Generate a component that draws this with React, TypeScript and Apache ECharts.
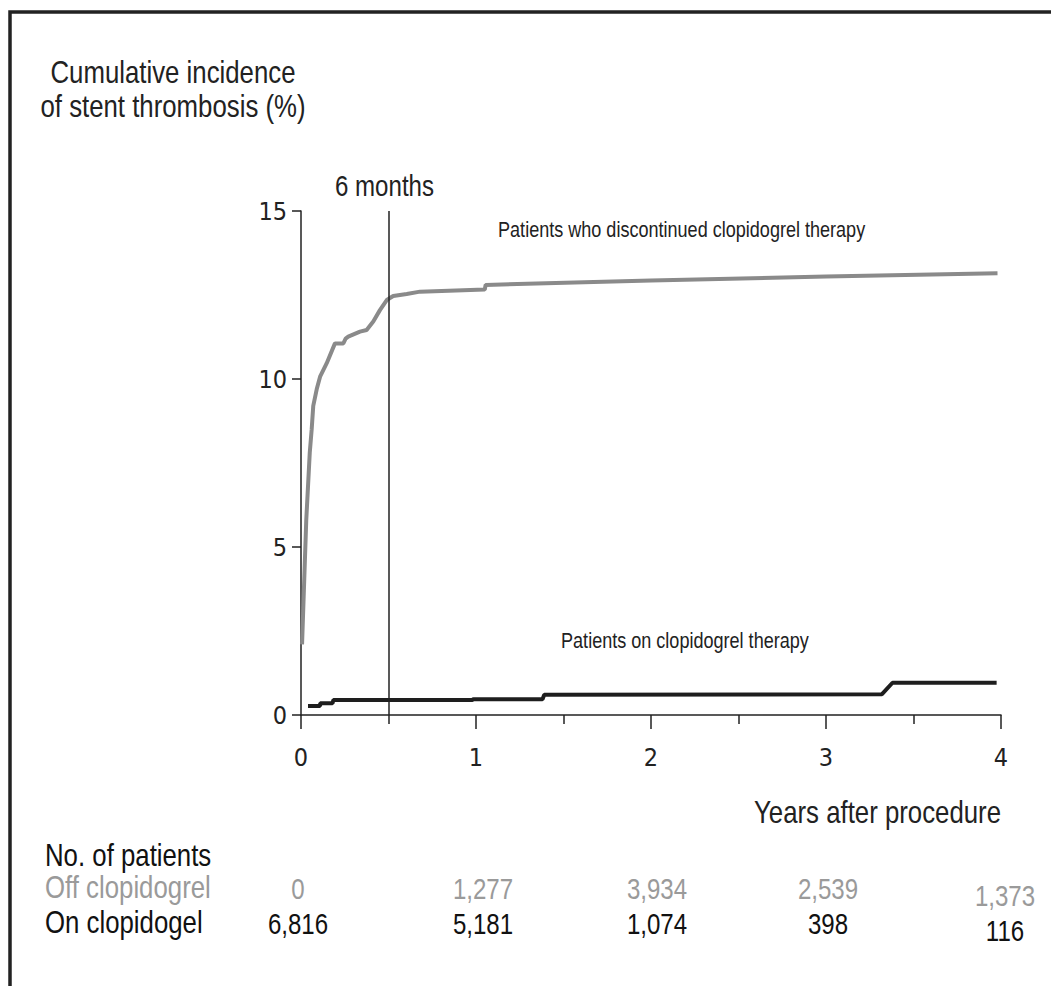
import React, { useEffect, useRef } from "react";
import * as echarts from "echarts";

const AXIS_FONT = "'DejaVu Sans Condensed', 'Liberation Sans', sans-serif";
const TEXT_FONT = "'Liberation Sans', Arial, sans-serif";
const SQUEEZE = 0.86;
const STRETCH = 1.06;

// Years after procedure, cumulative incidence (%)
const offClopidogrel: [number, number][] = [
  [0.006, 2.1], [0.03, 5.8], [0.05, 7.8], [0.061, 8.5], [0.07, 9.2], [0.09, 9.7],
  [0.109, 10.07], [0.147, 10.47], [0.194, 11.06], [0.242, 11.06], [0.255, 11.2],
  [0.27, 11.26], [0.337, 11.41], [0.375, 11.46], [0.413, 11.71], [0.451, 12.05],
  [0.49, 12.35], [0.527, 12.47], [0.604, 12.53], [0.68, 12.6], [1.05, 12.66],
  [1.055, 12.8], [2.0, 12.93], [3.0, 13.05], [3.98, 13.15],
];
const onClopidogrel: [number, number][] = [
  [0.04, 0.27], [0.109, 0.27], [0.11, 0.35], [0.18, 0.35], [0.185, 0.45],
  [0.98, 0.45], [0.985, 0.47], [1.38, 0.47], [1.39, 0.6], [3.32, 0.62],
  [3.38, 0.96], [3.975, 0.96],
];

const yTicks = [0, 5, 10, 15];
const xTicks = [0, 1, 2, 3, 4];
const offCounts = ["0", "1,277", "3,934", "2,539", "1,373"];
const onCounts = ["6,816", "5,181", "1,074", "398", "116"];
const countOffsets = [-3, 7, 6, 2, 4];
const lastRowDrop = [0, 0, 0, 0, 7];

const yTitle = ["Cumulative incidence", "of stent thrombosis (%)"];
const xTitle = "Years after procedure";
const offLabel = "Patients who discontinued clopidogrel therapy";
const onLabel = "Patients on clopidogrel therapy";
const sixMonths = 0.5;

function txt(text: string, x: number, y: number, size: number, fill: string, align = "left") {
  return {
    type: "text",
    x,
    y,
    scaleX: SQUEEZE,
    scaleY: STRETCH,
    style: { text, font: `${size}px ${TEXT_FONT}`, fill, align, verticalAlign: "middle" },
  };
}

export default function App() {
  const ref = useRef<HTMLDivElement>(null);
  useEffect(() => {
    const chart = echarts.init(ref.current!, null, { renderer: "svg" });
    chart.setOption({
      animation: false,
      backgroundColor: "#ffffff",
      grid: { left: 301, right: 50, top: 211, bottom: 271 },
      xAxis: {
        type: "value",
        min: 0,
        max: 4,
        interval: 1,
        splitLine: { show: false },
        axisLine: { show: true, onZero: false, lineStyle: { color: "#222", width: 1.5 } },
        axisTick: { show: true, length: 14, lineStyle: { color: "#222", width: 1.5 } },
        minorTick: { show: true, splitNumber: 2, length: 9, lineStyle: { color: "#222", width: 1.5 } },
        axisLabel: {
          margin: 30,
          fontSize: 25,
          fontFamily: AXIS_FONT,
          color: "#222",
          formatter: (v: number) => (xTicks.includes(v) ? String(v) : ""),
        },
      },
      yAxis: {
        type: "value",
        min: 0,
        max: 15,
        interval: 5,
        splitLine: { show: false },
        axisLine: { show: true, lineStyle: { color: "#222", width: 1.5 } },
        axisTick: { show: true, length: 9, lineStyle: { color: "#222", width: 1.5 } },
        axisLabel: {
          margin: 14,
          fontSize: 25,
          fontFamily: AXIS_FONT,
          color: "#222",
          formatter: (v: number) => (yTicks.includes(v) ? String(v) : ""),
        },
      },
      series: [
        {
          type: "line",
          name: "Off clopidogrel",
          data: offClopidogrel,
          symbol: "none",
          lineStyle: { color: "#8a8a8a", width: 4 },
          markLine: {
            silent: true,
            symbol: "none",
            data: [[{ coord: [sixMonths, 0] }, { coord: [sixMonths, 15] }]],
            lineStyle: { color: "#222", width: 1.5, type: "solid" },
            label: { show: false },
          },
        },
        {
          type: "line",
          name: "On clopidogrel",
          data: onClopidogrel,
          symbol: "none",
          lineStyle: { color: "#1e1e1e", width: 4 },
        },
      ],
    });

    const px = (x: number, y: number) => chart.convertToPixel({ gridIndex: 0 }, [x, y]) as number[];
    const p1 = px(1.126, 14.46);
    const p2 = px(1.486, 2.23);
    const p6 = px(sixMonths, 15);
    const graphic: any[] = [
      {
        type: "rect",
        shape: { x: 10, y: 12, width: 1200, height: 1200 },
        style: { fill: "none", stroke: "#222", lineWidth: 3.5 },
        silent: true,
      },
      txt(yTitle[0], 173, 72, 30, "#222", "center"),
      txt(yTitle[1], 173, 106, 30, "#222", "center"),
      txt("6 months", p6[0] - 4, p6[1] - 25, 28, "#222", "center"),
      txt(xTitle, px(4, 0)[0], 812, 30, "#222", "right"),
      txt(offLabel, p1[0], p1[1], 21, "#222"),
      txt(onLabel, p2[0], p2[1], 21, "#222"),
      txt("No. of patients", 45, 855, 30, "#111"),
      txt("Off clopidogrel", 45, 887, 30, "#9a9a9a"),
      txt("On clopidogel", 45, 922, 30, "#111"),
    ];
    xTicks.forEach((t, i) => {
      const x = px(t, 0)[0] + countOffsets[i];
      graphic.push(txt(offCounts[i], x, 889 + lastRowDrop[i], 28, "#9a9a9a", "center"));
      graphic.push(txt(onCounts[i], x, 924 + lastRowDrop[i], 28, "#111", "center"));
    });
    chart.setOption({ graphic });

    return () => chart.dispose();
  }, []);
  return (
    <div
      ref={ref}
      style={{ position: "absolute", left: 0, top: 0, width: 1051, height: 986, background: "#fff" }}
    />
  );
}
